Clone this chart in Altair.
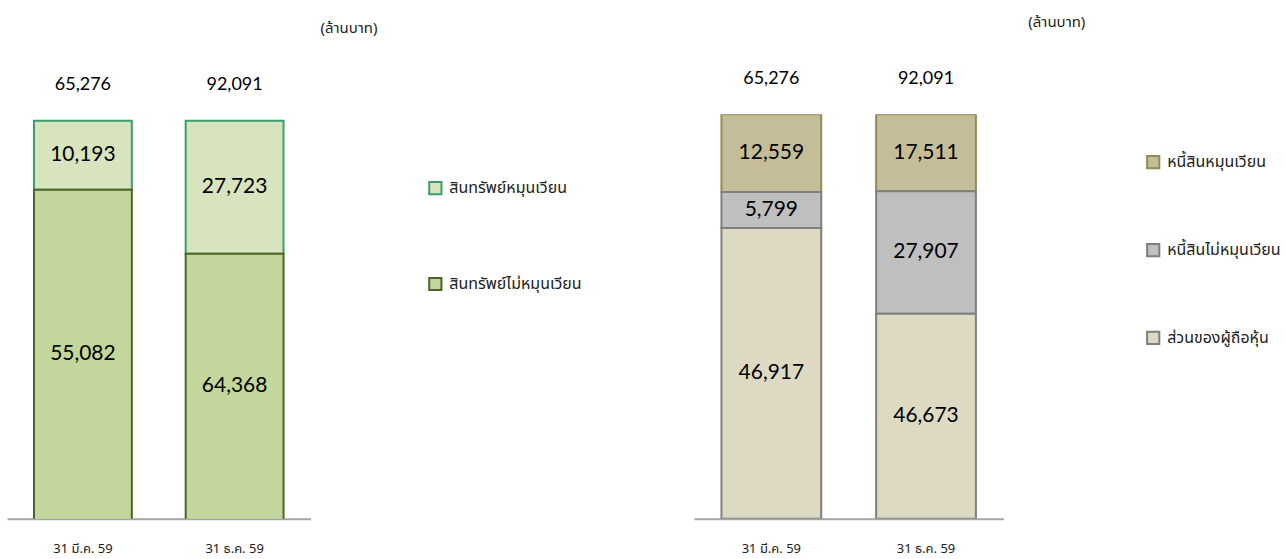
import altair as alt
import pandas as pd

# ---- data ----
dates = ["31 มี.ค. 59", "31 ธ.ค. 59"]
totals = [65276, 92091]

asset_items = ["สินทรัพย์หมุนเวียน", "สินทรัพย์ไม่หมุนเวียน"]
current_assets = [10193, 27723]
noncurrent_assets = [55082, 64368]

liab_items = ["หนี้สินหมุนเวียน", "หนี้สินไม่หมุนเวียน", "ส่วนของผู้ถือหุ้น"]
current_liab = [12559, 17511]
noncurrent_liab = [5799, 27907]
equity = [46917, 46673]

asset_fill = ["#D7E4BD", "#C3D69B"]
asset_stroke = ["#3A9F6A", "#4F6228"]
liab_fill = ["#C4BD97", "#BFBFBF", "#DDD9C3"]
liab_stroke = ["#948A54", "#7F7F7F", "#7F7F7F"]

NUM_FONT = "Lato"
THAI_FONT = "Noto Sans Thai, Noto Sans, sans-serif"


def long_table(items, series):
    rows = []
    for rank, (item, vals) in enumerate(zip(items, series)):
        for d, v in zip(dates, vals):
            rows.append({"date": d, "item": item, "rank": rank, "value": v})
    return pd.DataFrame(rows)


assets_df = long_table(asset_items, [current_assets, noncurrent_assets])
liab_df = long_table(liab_items, [current_liab, noncurrent_liab, equity])
totals_df = pd.DataFrame({"date": dates, "total": totals, "top": [1.0, 1.0]})


def legend(legend_x, legend_y, row_pad):
    return alt.Legend(orient="none", legendX=legend_x, legendY=legend_y,
                      title=None, symbolType="square", symbolSize=150,
                      symbolStrokeWidth=2, labelFontSize=16,
                      labelFont=THAI_FONT, labelColor="#222222",
                      rowPadding=row_pad, labelOffset=6)


def panel(df, items, fills, strokes, ydomain, lo, legend_x, legend_y, row_pad, total_dy):
    xenc = alt.X(
        "date:N", sort=dates,
        scale=alt.Scale(paddingInner=0.355, paddingOuter=0.178),
        axis=alt.Axis(title=None, labelAngle=0, ticks=False, domainColor="#A6A6A6",
                      domainWidth=2, labelPadding=24, labelFontSize=13,
                      labelFont=THAI_FONT, labelColor="#222222"),
    )
    yscale = alt.Scale(domain=ydomain, nice=False, zero=False)
    base = alt.Chart(df).transform_stack(
        stack="value", groupby=["date"], as_=["y0", "y1"], offset="normalize",
        sort=[alt.SortField("rank", order="descending")],
    )
    bars = base.mark_bar(clip=True, strokeWidth=2).encode(
        x=xenc,
        y=alt.Y("y0:Q", scale=yscale, axis=None),
        y2="y1:Q",
        fill=alt.Fill("item:N", scale=alt.Scale(domain=items, range=fills),
                      legend=legend(legend_x, legend_y, row_pad)),
        stroke=alt.Stroke("item:N", scale=alt.Scale(domain=items, range=strokes),
                          legend=legend(legend_x, legend_y, row_pad)),
    )
    labels = base.transform_calculate(
        mid=f"(max(datum.y0, {lo}) + datum.y1) / 2"
    ).mark_text(font=NUM_FONT, fontSize=21, color="#000000", baseline="middle").encode(
        x=alt.X("date:N", sort=dates),
        y=alt.Y("mid:Q", scale=yscale),
        text=alt.Text("value:Q", format=","),
    )
    tot = alt.Chart(totals_df).mark_text(
        font=NUM_FONT, fontSize=18, color="#000000", baseline="middle", dy=total_dy
    ).encode(
        x=alt.X("date:N", sort=dates),
        y=alt.Y("top:Q", scale=yscale),
        text=alt.Text("total:Q", format=","),
    )
    return alt.layer(bars, labels, tot)


left = panel(assets_df, asset_items, asset_fill, asset_stroke, [0.1, 1.0145], 0.1,
             421, 66, 74, -36).properties(
    width=304, height=405,
    title=alt.TitleParams("(ล้านบาท)", anchor="end", dx=67, fontSize=15,
                          fontWeight="normal", font=THAI_FONT, color="#222222",
                          frame="group", offset=40),
)
right = panel(liab_df, liab_items, liab_fill, liab_stroke, [0.0, 1.0], 0.0,
              452, 40, 66, -35).properties(
    width=310, height=405,
    title=alt.TitleParams("(ล้านบาท)", anchor="end", dx=82, fontSize=15,
                          fontWeight="normal", font=THAI_FONT, color="#222222",
                          frame="group", offset=40),
)

chart = alt.hconcat(left, right, spacing=384, bounds="flush").resolve_scale(
    x="independent", y="independent", fill="independent", stroke="independent"
).resolve_legend(fill="independent", stroke="independent").properties(
    padding={"left": 7, "top": 15, "right": 5, "bottom": 5},
    background="white",
).configure_view(stroke="transparent", strokeWidth=0)

chart.save("out.html", embed_options={"renderer": "svg", "actions": False})
